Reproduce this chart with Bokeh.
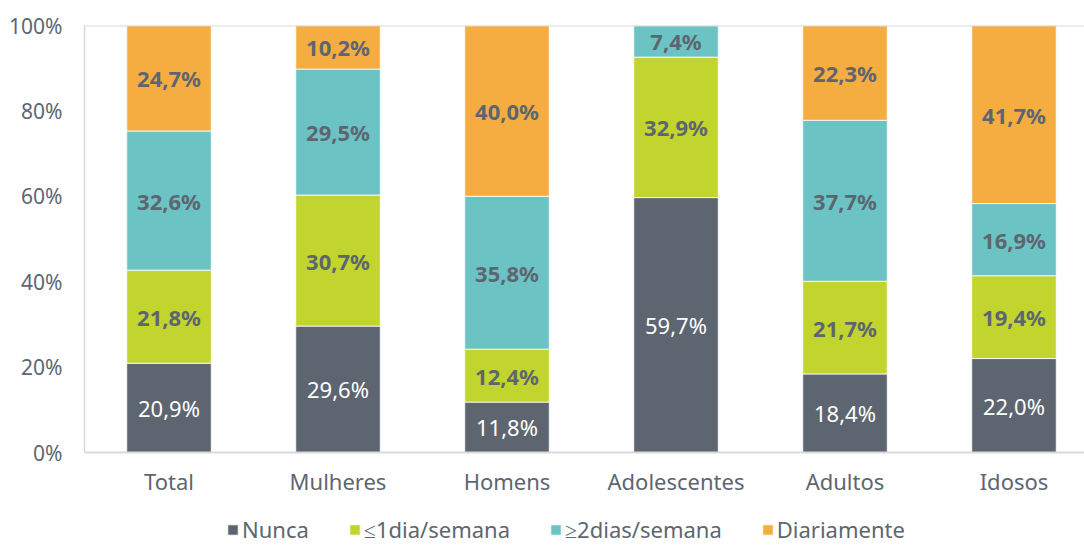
import numpy as np
from bokeh.plotting import figure
from bokeh.models import ColumnDataSource, Range1d, FixedTicker, Span, Legend, LegendItem
from bokeh.core.properties import value
from bokeh.embed import file_html
from bokeh.resources import INLINE

# ---- data ----
categories = ["Total", "Mulheres", "Homens", "Adolescentes", "Adultos", "Idosos"]
series = ["Nunca", "≤1dia/semana", "≥2dias/semana", "Diariamente"]
nunca = [20.9, 29.6, 11.8, 59.7, 18.4, 22.0]
ate_1dia = [21.8, 30.7, 12.4, 32.9, 21.7, 19.4]
mais_2dias = [32.6, 29.5, 35.8, 7.4, 37.7, 16.9]
diariamente = [24.7, 10.2, 40.0, 0.0, 22.3, 41.7]
y_ticks = [0, 20, 40, 60, 80, 100]
y_tick_labels = ["0%", "20%", "40%", "60%", "80%", "100%"]

colors = ["#5d6670", "#c2d42e", "#6cc3c3", "#f5ad42"]
FONT = "Noto Sans"
TXT = "#5d6670"
GRID = "#d9d9d9"

values = [nunca, ate_1dia, mais_2dias, diariamente]
keys = ["s0", "s1", "s2", "s3"]
xs = list(range(len(categories)))
data = {"x": xs}
for k, v in zip(keys, values):
    data[k] = v
source = ColumnDataSource(data)

# frame: top 25px, bottom 545px; 0..100 spans 427px -> room below 0 for labels and legend
px_per_unit = 427 / 100.0
y_min = -(520 - 427) / px_per_unit
p = figure(width=1084, height=545, output_backend="svg", toolbar_location=None,
           x_range=Range1d(-0.5, -0.5 + 1000 / 169.0), y_range=Range1d(y_min, 100),
           x_axis_location=None,
           min_border_left=84, min_border_right=0, min_border_top=25, min_border_bottom=0)
p.outline_line_color = None
p.xgrid.grid_line_color = None
p.ygrid.grid_line_color = None

renderers = p.vbar_stack(keys, x="x", width=0.5, source=source, color=colors,
                         line_color="white", line_width=0.8)

# data labels
arr = np.array(values)
cum = np.cumsum(arr, axis=0)
bottoms = cum - arr
for i in range(len(series)):
    mids = (bottoms[i] + cum[i]) / 2
    lx, ly, lt = [], [], []
    for j in range(len(categories)):
        v = arr[i][j]
        if v <= 0:
            continue
        lx.append(xs[j])
        ly.append(mids[j])
        lt.append(f"{v:.1f}".replace(".", ",") + "%")
    src = ColumnDataSource(dict(x=lx, y=ly, t=lt))
    p.text(x="x", y="y", text="t", source=src, text_align="center", text_baseline="middle",
           text_font=value(FONT), text_font_size="22px",
           text_font_style="normal" if i == 0 else "bold",
           text_color="white" if i == 0 else TXT)

# category labels under the baseline
cat_src = ColumnDataSource(dict(x=xs, y=[0] * len(xs), t=categories))
p.text(x="x", y="y", text="t", source=cat_src, y_offset=28,
       text_align="center", text_baseline="middle",
       text_font=value(FONT), text_font_size="22px", text_color=TXT)

# y axis
p.yaxis.ticker = FixedTicker(ticks=y_ticks)
p.yaxis.bounds = (0, 100)
p.yaxis.major_label_overrides = {t: l for t, l in zip(y_ticks, y_tick_labels)}
p.yaxis.major_tick_line_color = None
p.yaxis.minor_tick_line_color = None
p.yaxis.axis_line_color = GRID
p.yaxis.axis_line_width = 1.5
p.yaxis.major_label_standoff = 16
p.yaxis.major_label_text_font = FONT
p.yaxis.major_label_text_font_size = "21px"
p.yaxis.major_label_text_color = TXT

p.add_layout(Span(location=100, dimension="width", line_color=GRID, line_width=2))
p.add_layout(Span(location=0, dimension="width", line_color=GRID, line_width=2))

legend = Legend(items=[LegendItem(label=s, renderers=[r]) for s, r in zip(series, renderers)],
                orientation="horizontal", location=(142, 1),
                padding=0, margin=0, spacing=39, label_standoff=3,
                glyph_width=13, glyph_height=13, label_height=26,
                label_text_font=FONT, label_text_font_size="22px", label_text_color=TXT,
                border_line_color=None, background_fill_alpha=0)
p.add_layout(legend, "center")

open("out.html", "w").write(file_html(p, INLINE))
